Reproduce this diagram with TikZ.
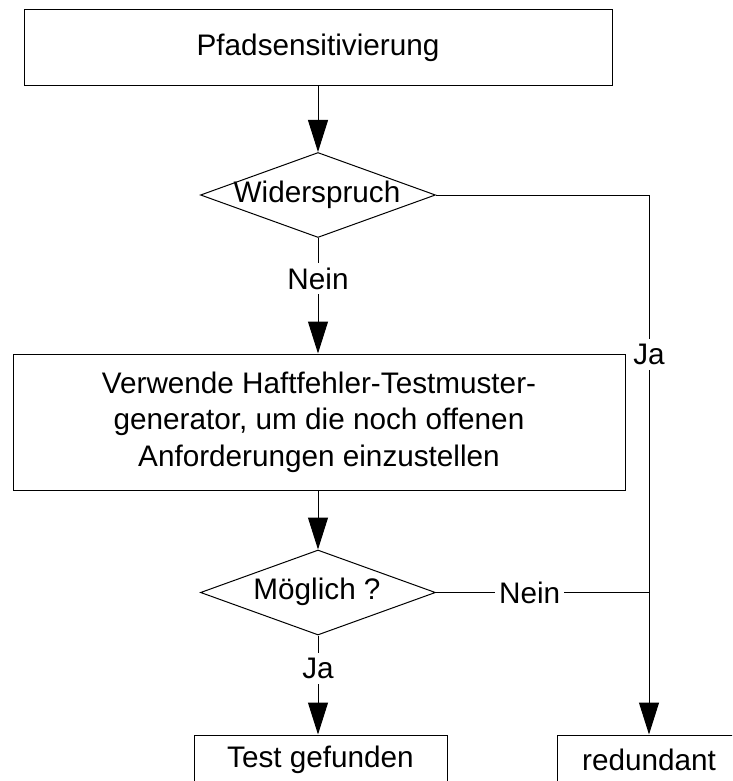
\documentclass[tikz,border=0pt]{standalone}
\usepackage{fontspec}
\setmainfont{Liberation Sans}
\usetikzlibrary{shapes.geometric,arrows.meta}
\begin{document}
\begin{tikzpicture}[x=1pt,y=-1pt,
  txt/.style={font=\fontsize{29.7}{36.5}\selectfont, inner sep=0pt},
  box/.style={txt, draw, line width=1pt, align=center},
  decision/.style={draw, diamond, line width=1pt, inner sep=0pt,
                   minimum width=235pt, minimum height=85pt},
  lbl/.style={txt, fill=white, inner xsep=4pt, inner ysep=5pt},
  plain/.style={line width=1pt},
  flow/.style={plain, -{Triangle[length=32pt,width=20pt]}}]
\useasboundingbox (0,0) rectangle (732,781);
\clip (0,0) rectangle (732,781);

% process steps
\node[box, minimum width=588pt, minimum height=76pt] (sens) at (318,48) {Pfadsensitivierung};
\node[decision] (wid) at (318,195) {};
\node[txt] (widtxt) at (317,195) {Widerspruch};
\node[box, minimum width=612pt, minimum height=136pt] (atpg) at (319,422)
  {Verwende Haftfehler-Testmuster-\\generator, um die noch offenen\\Anforderungen einzustellen};
\node[decision] (moeg) at (318,592.5) {};
\node[txt] (moegtxt) at (317,592) {Möglich ?};

% outcomes
\node[box, minimum width=253pt, minimum height=50pt] (found) at (320.5,760) {Test gefunden};
\node[box, minimum width=184pt, minimum height=50pt] (red) at (649,760) {redundant};

% connectors
\draw[flow] (sens.south) -- (wid.north);
\draw[flow] (wid.south) -- node[lbl, pos=0.35] (nein1) {Nein} (wid.south |- atpg.north);
\coordinate (corner) at (wid.east -| red.north);
\coordinate (merge) at (moeg.east -| red.north);
\draw[flow] (wid.east) -- (corner) -- node[lbl, pos=0.296] (ja1) {Ja} (red.north);
\draw[flow] (atpg.south -| moeg.north) -- (moeg.north);
\draw[plain] (moeg.east) -- node[lbl, pos=0.44] (nein2) {Nein} (merge);
\draw[flow] (moeg.south) -- node[lbl, pos=0.33] (ja2) {Ja} (moeg.south |- found.north);
\end{tikzpicture}
\end{document}
